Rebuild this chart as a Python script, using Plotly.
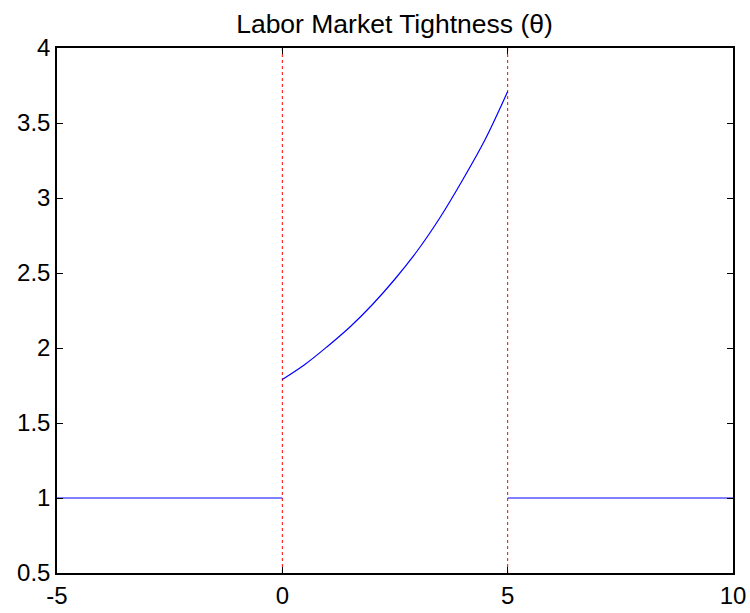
import plotly.graph_objects as go

# Data
pre_x = [-5, 0]
pre_y = [1.0, 1.0]
mid_x = [0, 0.5, 1, 1.5, 2, 2.5, 3, 3.5, 4, 4.5, 5]
mid_y = [1.79, 1.89, 2.01, 2.14, 2.29, 2.46, 2.65, 2.87, 3.12, 3.39, 3.71]
post_x = [5, 10]
post_y = [1.0, 1.0]
vline_xs = [0, 5]
y_span = [0.5, 4]
x_ticks = [-5, 0, 5, 10]
y_ticks = [0.5, 1, 1.5, 2, 2.5, 3, 3.5, 4]
y_tick_text = ["0.5", "1", "1.5", "2", "2.5", "3", "3.5", "4"]

fig = go.Figure()
for vx in vline_xs:
    fig.add_trace(go.Scatter(x=[vx, vx], y=y_span, mode="lines",
                             line=dict(color="red", width=1, dash="dot"),
                             showlegend=False, hoverinfo="skip"))
for xs, ys, shape in [(pre_x, pre_y, "linear"), (mid_x, mid_y, "spline"), (post_x, post_y, "linear")]:
    fig.add_trace(go.Scatter(x=xs, y=ys, mode="lines",
                             line=dict(color="blue", width=1.2, shape=shape, smoothing=1.0),
                             showlegend=False))

axis_common = dict(showline=True, linecolor="black", linewidth=1.5, mirror="ticks",
                   ticks="inside", ticklen=6, tickcolor="black", showgrid=False,
                   zeroline=False, automargin=False,
                   tickfont=dict(family="Liberation Sans, Arial", size=24, color="black"))

fig.update_layout(
    width=750, height=613,
    margin=dict(l=57, r=17, t=48, b=40),
    paper_bgcolor="white", plot_bgcolor="white",
    title=dict(text="Labor Market Tightness (θ)", x=0.526, xanchor="center", y=0.962, yanchor="middle",
               font=dict(family="Liberation Sans, Arial", size=26.5, color="black")),
    xaxis=dict(range=[-5, 10], tickvals=x_ticks, ticktext=[str(v) for v in x_ticks], **axis_common),
    yaxis=dict(range=[0.5, 4], tickvals=y_ticks, ticktext=y_tick_text, **axis_common),
)

fig.write_html("out.html",
               config={"displayModeBar": False},
               post_script="document.body.style.margin='0';document.body.style.padding='0';"
                           "document.body.style.overflow='hidden';")
